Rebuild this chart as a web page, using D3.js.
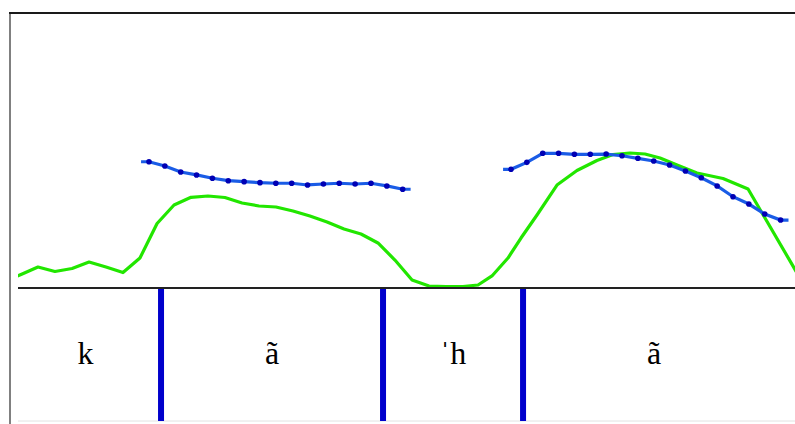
<!DOCTYPE html>
<html lang="en">
	<head>
		<meta charset="utf-8">
		<title>Pitch and intensity</title>
		<script type="text/javascript" src="https://cdn.jsdelivr.net/npm/d3@7"></script>
		<style type="text/css">
			body {
				margin: 0;
				background-color: white;
			}
			svg {
				display: block;
				background-color: white;
			}
		</style>
	</head>
	<body>
		<script type="text/javascript">

			// intensity contour (green): time in s, intensity in dB
			var intensityTimes = [-0.0088, 0.0019, 0.0126, 0.0233, 0.0341, 0.0448, 0.0555, 0.0662, 0.0769, 0.0877,
				0.0984, 0.1091, 0.1198, 0.1305, 0.1413, 0.1520, 0.1627, 0.1734, 0.1841, 0.1949,
				0.2056, 0.2163, 0.2270, 0.2377, 0.2485, 0.2592, 0.2699, 0.2806, 0.2901, 0.2989,
				0.3090, 0.3172, 0.3273, 0.3399, 0.3525, 0.3651, 0.3752, 0.3859, 0.3954, 0.4049,
				0.4156, 0.4282, 0.4446, 0.4604, 0.4913];
			var intensityDb = [40.87, 41.96, 43.05, 42.40, 42.84, 43.78, 43.05, 42.25, 44.36, 49.38,
				52.07, 53.19, 53.38, 53.16, 52.36, 51.93, 51.78, 51.20, 50.47, 49.60,
				48.58, 47.85, 46.55, 44.07, 41.16, 40.29, 40.22, 40.22, 40.44, 41.75,
				44.36, 47.27, 50.62, 54.98, 57.09, 58.55, 59.42, 59.64, 59.49, 58.91,
				57.89, 56.73, 55.93, 54.40, 42.18];

			// pitch contours (blue): one value per 10 ms frame, in Hz
			var frameStep = 0.01;
			var pitchStart1 = 0.0826;
			var pitchHz1 = [178.3, 174.8, 169.9, 167.5, 164.8, 162.8, 162.0, 161.2, 160.7, 160.7,
				159.3, 160.1, 160.7, 160.1, 160.7, 158.5, 155.8];
			var pitchStart2 = 0.3109;
			var pitchHz2 = [172.1, 177.8, 185.2, 185.2, 184.4, 184.4, 184.6, 183.2, 181.1, 178.9,
				175.6, 170.7, 165.2, 158.5, 149.7, 143.7, 135.5, 130.6];

			// segment tier
			var tierStart = -0.005;
			var tierEnd = 0.4837;
			var boundaries = [0.0902, 0.2302, 0.3185];
			var segmentLabels = ["k", "ã", "ˈh", "ã"];

			var width = 795, height = 424;
			var plotLeft = 18, plotTop = 13, baseY = 288, tierBottom = 420;

			var svg = d3.select("body")
						.append("svg")
						.attr("width", width)
						.attr("height", height);

			var x = d3.scaleLinear().domain([0, 0.49]).range([plotLeft, width]);
			var yPitch = d3.scaleLinear().domain([75, 300]).range([baseY, plotTop]);
			var yDb = d3.scaleLinear().domain([40, 80]).range([baseY, plotTop]);

			svg.append("clipPath")
				.attr("id", "plotclip")
				.append("rect")
				.attr("x", plotLeft)
				.attr("y", plotTop)
				.attr("width", width - plotLeft)
				.attr("height", baseY - plotTop);

			// frame
			svg.append("line")
				.attr("x1", 10).attr("x2", 10)
				.attr("y1", plotTop).attr("y2", height)
				.attr("stroke", "#808080")
				.attr("stroke-width", 2);
			svg.append("line")
				.attr("x1", 9).attr("x2", width)
				.attr("y1", plotTop).attr("y2", plotTop)
				.attr("stroke", "#1a1a1a")
				.attr("stroke-width", 2);
			svg.append("line")
				.attr("x1", plotLeft).attr("x2", width)
				.attr("y1", tierBottom + 1).attr("y2", tierBottom + 1)
				.attr("stroke", "#e2e2e2")
				.attr("stroke-width", 1);

			// intensity
			var intensity = intensityTimes.map(function(t, i) {
				return [t, intensityDb[i]];
			});
			svg.append("path")
				.datum(intensity)
				.attr("clip-path", "url(#plotclip)")
				.attr("fill", "none")
				.attr("stroke", "#22e600")
				.attr("stroke-width", 3.2)
				.attr("stroke-linejoin", "round")
				.attr("d", d3.line()
					.x(function(d) { return x(d[0]); })
					.y(function(d) { return yDb(d[1]); }));

			// baseline
			svg.append("line")
				.attr("x1", plotLeft).attr("x2", width)
				.attr("y1", baseY).attr("y2", baseY)
				.attr("stroke", "#222")
				.attr("stroke-width", 2);

			// pitch
			var pitchLine = d3.line()
				.x(function(d) { return x(d[0]); })
				.y(function(d) { return yPitch(d[1]); });

			[[pitchStart1, pitchHz1], [pitchStart2, pitchHz2]].forEach(function(run) {
				var pts = run[1].map(function(v, i) {
					return [run[0] + i * frameStep, v];
				});
				var n = pts.length;
				var drawn = [[pts[0][0] - frameStep / 2, pts[0][1]]]
					.concat(pts)
					.concat([[pts[n - 1][0] + frameStep / 2, pts[n - 1][1]]]);

				svg.append("path")
					.datum(drawn)
					.attr("fill", "none")
					.attr("stroke", "#1a5ce6")
					.attr("stroke-width", 3.2)
					.attr("d", pitchLine);

				svg.append("g")
					.selectAll("circle")
					.data(pts)
					.enter()
					.append("circle")
					.attr("cx", function(d) { return x(d[0]); })
					.attr("cy", function(d) { return yPitch(d[1]); })
					.attr("r", 2.8)
					.attr("fill", "#0000b4");
			});

			// segment boundaries and labels
			svg.selectAll("rect.boundary")
				.data(boundaries)
				.enter()
				.append("rect")
				.attr("class", "boundary")
				.attr("x", function(d) { return x(d) - 3; })
				.attr("y", baseY + 1)
				.attr("width", 6)
				.attr("height", tierBottom - baseY)
				.attr("fill", "#0000cc");

			var edges = [tierStart].concat(boundaries).concat([tierEnd]);
			svg.selectAll("text.seg")
				.data(segmentLabels)
				.enter()
				.append("text")
				.attr("class", "seg")
				.attr("x", function(d, i) { return x((edges[i] + edges[i + 1]) / 2); })
				.attr("y", 364)
				.attr("text-anchor", "middle")
				.attr("font-family", "'Liberation Serif', 'Times New Roman', serif")
				.attr("font-size", 32)
				.attr("fill", "#000")
				.text(function(d) { return d; });

		</script>
	</body>
</html>
